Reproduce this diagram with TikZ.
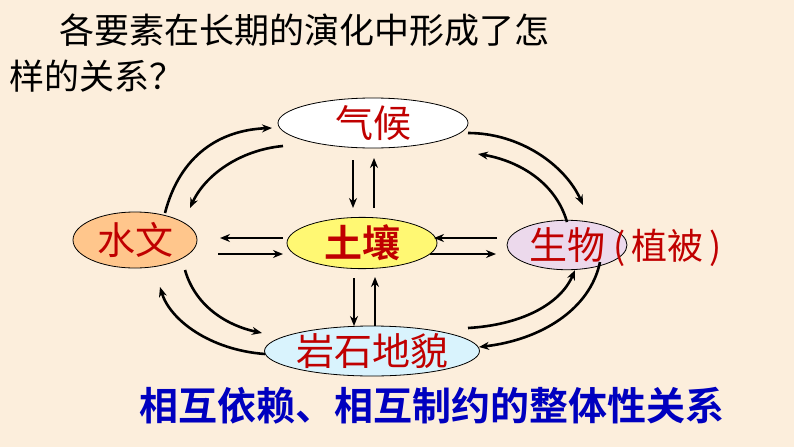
\documentclass[tikz,border=0pt]{standalone}
\usepackage{fontspec}
\setmainfont{Noto Sans CJK SC}
\newfontfamily\cjkb{Noto Sans CJK SC Bold}
\usetikzlibrary{shapes.geometric,arrows.meta}
\definecolor{bg}{HTML}{FCEEDC}
\definecolor{txtred}{HTML}{C00000}
\tikzset{
 el/.style={ellipse,draw=black,line width=0.8pt,inner sep=0pt,font=\fontsize{38}{38}\selectfont,text=txtred},
 ar/.style={-{Stealth[length=10pt,width=8pt]},line width=2.6pt},
}
\begin{document}
\begin{tikzpicture}[x=1pt,y=-1pt]
\fill[bg] (0,0) rectangle (794,447);
\useasboundingbox (0,0) rectangle (794,447);
\node[anchor=west,font=\fontsize{35}{35}\selectfont] (t1) at (56,30) {各要素在长期的演化中形成了怎};
\node[anchor=west,font=\fontsize{35}{35}\selectfont] (t2) at (6,76) {样的关系？};
\node[el,fill=white,minimum width=190,minimum height=50] (qh) at (373,123) {气候};
\node[el,fill=orange!45,minimum width=124,minimum height=56] (sw) at (135,240) {水文};
\node[el,fill=yellow!55,minimum width=150,minimum height=48,font=\cjkb\fontsize{38}{38}\selectfont] (tr) at (362,243) {土壤};
\node[el,fill=violet!15,minimum width=120,minimum height=48] (sb) at (567,245) {生物};
\node[anchor=west,font=\fontsize{36}{36}\selectfont,text=txtred] (zb) at (610,248) {(\,植被\,)};
\node[el,fill=cyan!15,minimum width=214,minimum height=50] (ys) at (372,351) {岩石地貌};
\node[anchor=west,font=\cjkb\fontsize{39}{39}\selectfont,text=blue!75!black] (bt) at (136,406) {相互依赖、相互制约的整体性关系};
% vertical
\draw[ar] (353,160) -- (353,208);
\draw[ar] (374,208) -- (374,158);
\draw[ar] (354,278) -- (354,326);
\draw[ar] (375,326) -- (375,277);
% horizontal
\draw[ar] (283,238) -- (220,238);
\draw[ar] (218,254) -- (283,254);
\draw[ar] (497,238) -- (434,238);
\draw[ar] (430,254) -- (496,254);
% curves left
\draw[ar] (165,213) .. controls (180,155) and (220,130) .. (272,128);
\draw[ar] (283,146) .. controls (240,150) and (205,175) .. (190,208);
\draw[ar] (185,270) .. controls (195,305) and (225,325) .. (262,333);
\draw[ar] (265,354) .. controls (210,350) and (170,320) .. (160,287);
% curves right
\draw[ar] (468,133) .. controls (520,133) and (565,165) .. (583,205);
\draw[ar] (567,222) .. controls (555,180) and (515,160) .. (478,154);
\draw[ar] (468,328) .. controls (520,325) and (560,305) .. (575,270);
\draw[ar] (600,262) .. controls (590,310) and (540,340) .. (479,347);
\end{tikzpicture}
\end{document}
